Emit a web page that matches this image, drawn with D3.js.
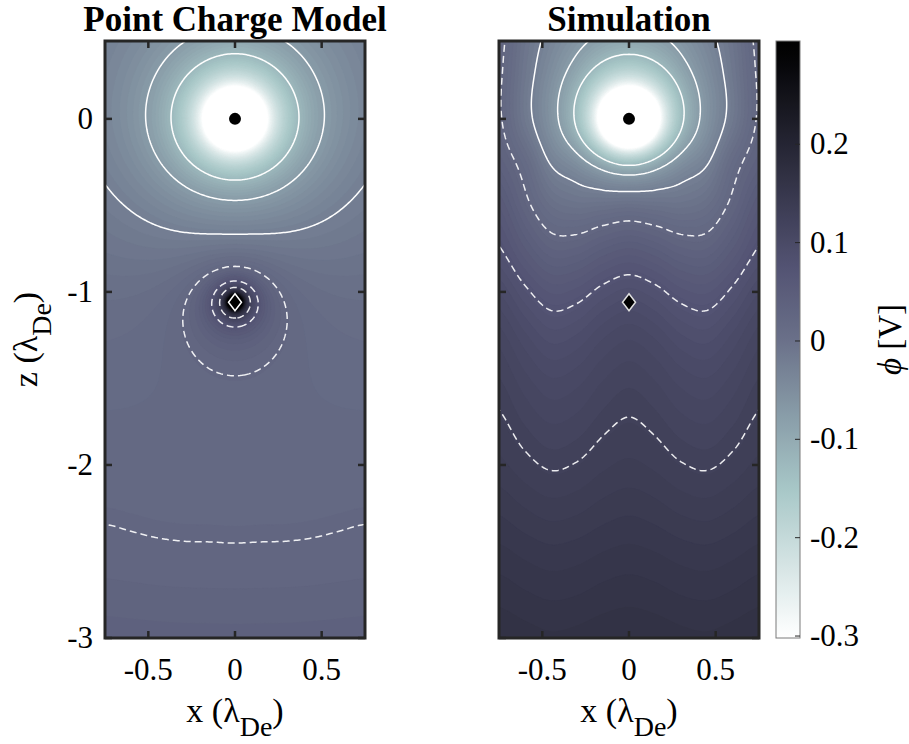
<!DOCTYPE html>
<html>
<head>
<meta charset="utf-8">
<script src="https://cdn.jsdelivr.net/npm/d3@7"></script>
<style>
  body { margin: 0; background: #fff; }
  svg { display: block; }
  text { font-family: 'Liberation Serif', 'Times New Roman', serif; fill: #000; }
</style>
</head>
<body>
<svg id="chart" width="909" height="744"></svg>
<script>
// ---- values ----
const xTicks = [-0.5, 0, 0.5];
const zTicks = [-3, -2, -1, 0];
const cbarTicks = [-0.3, -0.2, -0.1, 0, 0.1, 0.2];
const cbarRange = [-0.302, 0.305];
const lineLevels = [-0.125, -0.075, -0.025, 0.025, 0.075, 0.125];

// marker positions (grain and ion), in Debye lengths
const grain = { x: 0, z: 0 };
const ion = { x: 0, z: -1.06 };

// grid on which the smooth background potentials are tabulated
const bgZ = [0.5, 0.25, 0, -0.25, -0.5, -0.75, -1, -1.25, -1.5, -1.75, -2, -2.25, -2.5, -2.75, -3];
const bgX = [0, 0.15, 0.3, 0.45, 0.6, 0.75];   // |x|, mirrored

// point charge model: screened charges + weak background
const modelCharges = [
    { x: 0, z: 0, q: -0.07, lambda: 1 },
    { x: 0, z: -1.06, q: 0.0132, lambda: 1 }
];
const modelBgZ = [0.0, 0.001, 0.002, 0.004, 0.0055, 0.007, 0.0105, 0.013, 0.0155, 0.018, 0.0205, 0.023, 0.0258, 0.031, 0.038];
const modelBgX = [0, 0.0001, 0.0002, 0.0005, 0.001, 0.0015];

// simulation: grain charge + tabulated wake potential (rows follow bgZ, columns bgX)
const simCharges = [{ x: 0, z: 0, q: -0.0775, lambda: 1 }];
const simBg = [
    [0.012, 0.013, 0.018, 0.027, 0.042, 0.068],
    [0.027, 0.029, 0.034, 0.039, 0.051, 0.073],
    [0.050, 0.052, 0.054, 0.051, 0.058, 0.077],
    [0.094, 0.090, 0.078, 0.062, 0.076, 0.084],
    [0.096, 0.0872, 0.0712, 0.064, 0.0768, 0.0944],
    [0.103, 0.0948, 0.0798, 0.073, 0.085, 0.1015],
    [0.1146, 0.1075, 0.0945, 0.0886, 0.099, 0.1133],
    [0.124, 0.118, 0.107, 0.102, 0.111, 0.123],
    [0.1295, 0.1248, 0.1163, 0.1125, 0.1193, 0.1287],
    [0.1335, 0.1299, 0.1234, 0.1205, 0.1257, 0.1329],
    [0.1385, 0.1358, 0.1308, 0.1285, 0.1325, 0.138],
    [0.146, 0.1438, 0.1398, 0.138, 0.1412, 0.1456],
    [0.154, 0.1524, 0.1494, 0.148, 0.1504, 0.1537],
    [0.1615, 0.1601, 0.1576, 0.1565, 0.1585, 0.1613],
    [0.168, 0.1669, 0.1649, 0.164, 0.1656, 0.1678]
];

// reversed "bone"-like colormap (stops)
const colorScale = d3.scaleLinear()
    .domain([-0.3, -0.15, 0, 0.075, 0.3])
    .range(['#ffffff', '#a7c7c7', '#6a7189', '#535373', '#000000'])
    .clamp(true);

// ---- layout ----
const svg = d3.select('#chart');
const panelTop = 41, panelBottom = 638;
const panels = [
    { title: 'Point Charge Model', left: 105, right: 365, kind: 'model', yLabels: true },
    { title: 'Simulation', left: 499, right: 759, kind: 'sim', yLabels: false }
];
const cbar = { left: 776, right: 800 };

// sampling grid (slightly larger than the axes so that borders are clipped away)
const STEP = 0.01, X0 = -0.77, Z0 = 0.47, NX = 155, NZ = 350;

// Catmull-Rom helpers
function cubic(p0, p1, p2, p3, t) {
    return p1 + 0.5 * t * (p2 - p0 + t * (2 * p0 - 5 * p1 + 4 * p2 - p3 + t * (3 * (p1 - p2) + p3 - p0)));
}
function sampleCol(arr, x) {
    // mirrored in x, clamped beyond the last column
    const u = Math.min(Math.abs(x) / 0.15, arr.length - 1);
    const i = Math.min(arr.length - 2, Math.floor(u));
    const g = k => arr[Math.min(arr.length - 1, Math.abs(k))];
    return cubic(g(i - 1), g(i), g(i + 1), g(i + 2), u - i);
}
function sampleRow(arr, z) {
    const n = arr.length;
    const u = Math.max(0, Math.min(n - 1, (bgZ[0] - z) / 0.25));
    const i = Math.min(n - 2, Math.floor(u));
    const g = k => arr[Math.max(0, Math.min(n - 1, k))];
    return cubic(g(i - 1), g(i), g(i + 1), g(i + 2), u - i);
}

function chargePotential(charges, x, z) {
    let s = 0;
    charges.forEach(c => {
        const r = Math.max(Math.hypot(x - c.x, z - c.z), 0.004);
        s += c.q * Math.exp(-r / c.lambda) / r;
    });
    return s;
}

function modelField(x, z) {
    return sampleRow(modelBgZ, z) + sampleCol(modelBgX, x) + chargePotential(modelCharges, x, z);
}
function simField(x, z) {
    const rowVals = simBg.map(row => sampleCol(row, x));
    return sampleRow(rowVals, z) + chargePotential(simCharges, x, z);
}

function buildGrid(fn) {
    const values = new Float64Array(NX * NZ);
    for (let i = 0; i < NX; i++) {
        const x = X0 + i * STEP;
        for (let j = 0; j < NZ; j++) {
            const z = Z0 - j * STEP;
            values[j * NX + i] = Math.max(-0.4, Math.min(0.4, fn(x, z)));
        }
    }
    return values;
}

const defs = svg.append('defs');

// draw one panel
function drawPanel(p, idx) {
    const xs = d3.scaleLinear().domain([-0.75, 0.75]).range([p.left, p.right]);
    const ys = d3.scaleLinear().domain([-3, 0.45]).range([panelBottom, panelTop]);
    const values = buildGrid(p.kind === 'model' ? modelField : simField);

    defs.append('clipPath').attr('id', 'clip' + idx)
        .append('rect')
        .attr('x', p.left).attr('y', panelTop)
        .attr('width', p.right - p.left).attr('height', panelBottom - panelTop);

    const proj = d3.geoTransform({
        point: function(gx, gy) {
            this.stream.point(xs(X0 + (gx - 0.5) * STEP), ys(Z0 - (gy - 0.5) * STEP));
        }
    });
    const path = d3.geoPath(proj);
    const g = svg.append('g').attr('clip-path', `url(#clip${idx})`);

    // filled contours
    g.append('rect')
        .attr('x', p.left).attr('y', panelTop)
        .attr('width', p.right - p.left).attr('height', panelBottom - panelTop)
        .attr('fill', colorScale(-0.3));
    const fillStep = 0.006;
    const fillLevels = d3.range(-0.3, 0.3 - 1e-9, fillStep);
    const fills = d3.contours().size([NX, NZ]).thresholds(fillLevels)(values);
    g.selectAll('path.band')
        .data(fills)
        .join('path')
        .attr('class', 'band')
        .attr('d', path)
        .attr('fill', d => colorScale(d.value + fillStep / 2))
        .attr('stroke', d => colorScale(d.value + fillStep / 2))
        .attr('stroke-width', 0.3);

    // contour lines: solid for negative, dashed for positive
    const lines = d3.contours().size([NX, NZ]).thresholds(lineLevels)(values);
    g.selectAll('path.iso')
        .data(lines)
        .join('path')
        .attr('class', 'iso')
        .attr('d', path)
        .attr('fill', 'none')
        .attr('stroke', '#ffffff')
        .attr('stroke-opacity', d => d.value < 0 ? 1 : 0.9)
        .attr('stroke-width', 1.5)
        .attr('stroke-dasharray', d => d.value < 0 ? null : '7,4');

    // markers
    svg.append('circle')
        .attr('cx', xs(grain.x)).attr('cy', ys(grain.z)).attr('r', 6)
        .attr('fill', '#000');
    const dx = 6.5, dy = 8.5;
    const cx = xs(ion.x), cy = ys(ion.z);
    svg.append('path')
        .attr('d', `M${cx},${cy - dy}L${cx + dx},${cy}L${cx},${cy + dy}L${cx - dx},${cy}Z`)
        .attr('fill', '#000')
        .attr('stroke', p.kind === 'model' ? '#ffffff' : '#e0e0e0')
        .attr('stroke-width', 1.5);

    // frame and ticks
    const axisColor = '#262626';
    const tickLen = 7;
    xTicks.forEach(t => {
        const x = xs(t);
        svg.append('line').attr('x1', x).attr('x2', x).attr('y1', panelBottom).attr('y2', panelBottom - tickLen)
            .attr('stroke', axisColor).attr('stroke-width', 2.5);
        svg.append('line').attr('x1', x).attr('x2', x).attr('y1', panelTop).attr('y2', panelTop + tickLen)
            .attr('stroke', axisColor).attr('stroke-width', 2.5);
        svg.append('text')
            .attr('x', x).attr('y', 680)
            .attr('text-anchor', 'middle')
            .attr('font-size', 31)
            .text(t === 0 ? '0' : String(t));
    });
    zTicks.forEach(t => {
        const y = ys(t);
        svg.append('line').attr('x1', p.left).attr('x2', p.left + tickLen).attr('y1', y).attr('y2', y)
            .attr('stroke', axisColor).attr('stroke-width', 2.5);
        svg.append('line').attr('x1', p.right).attr('x2', p.right - tickLen).attr('y1', y).attr('y2', y)
            .attr('stroke', axisColor).attr('stroke-width', 2.5);
        if (p.yLabels) {
            svg.append('text')
                .attr('x', p.left - 12).attr('y', y + 10)
                .attr('text-anchor', 'end')
                .attr('font-size', 31)
                .text(String(t));
        }
    });
    svg.append('rect')
        .attr('x', p.left).attr('y', panelTop)
        .attr('width', p.right - p.left).attr('height', panelBottom - panelTop)
        .attr('fill', 'none')
        .attr('stroke', axisColor)
        .attr('stroke-width', 3);

    // title
    svg.append('text')
        .attr('x', (p.left + p.right) / 2).attr('y', 31)
        .attr('text-anchor', 'middle')
        .attr('font-size', 35)
        .attr('font-weight', 'bold')
        .text(p.title);

    // x label
    const xl = svg.append('text')
        .attr('x', (p.left + p.right) / 2).attr('y', 722)
        .attr('text-anchor', 'middle')
        .attr('font-size', 34);
    xl.append('tspan').text('x (λ');
    xl.append('tspan').attr('dy', 14).attr('font-size', 28).text('De');
    xl.append('tspan').attr('dy', -14).text(')');
}

panels.forEach(drawPanel);

// y label
const yl = svg.append('text')
    .attr('transform', `translate(37,${(panelTop + panelBottom) / 2}) rotate(-90)`)
    .attr('text-anchor', 'middle')
    .attr('font-size', 34);
yl.append('tspan').text('z (λ');
yl.append('tspan').attr('dy', 14).attr('font-size', 28).text('De');
yl.append('tspan').attr('dy', -14).text(')');

// colorbar
const cs = d3.scaleLinear().domain(cbarRange).range([panelBottom, panelTop]);
const grad = defs.append('linearGradient').attr('id', 'cbgrad')
    .attr('x1', 0).attr('y1', 1).attr('x2', 0).attr('y2', 0);
d3.range(0, 1.0001, 0.025).forEach(f => {
    grad.append('stop').attr('offset', f)
        .attr('stop-color', colorScale(cbarRange[0] + (cbarRange[1] - cbarRange[0]) * f));
});
svg.append('rect')
    .attr('x', cbar.left).attr('y', panelTop)
    .attr('width', cbar.right - cbar.left).attr('height', panelBottom - panelTop)
    .attr('fill', 'url(#cbgrad)')
    .attr('stroke', '#7a7a7a')
    .attr('stroke-width', 1);
cbarTicks.forEach(t => {
    const y = cs(t);
    svg.append('line').attr('x1', cbar.right).attr('x2', cbar.right - 5).attr('y1', y).attr('y2', y)
        .attr('stroke', '#262626').attr('stroke-width', 1);
    svg.append('text')
        .attr('x', cbar.right + 10).attr('y', y + 10)
        .attr('font-size', 31)
        .text(t === 0 ? '0' : String(t));
});
const cl = svg.append('text')
    .attr('transform', `translate(901,${(panelTop + panelBottom) / 2}) rotate(-90)`)
    .attr('text-anchor', 'middle')
    .attr('font-size', 33);
cl.append('tspan').attr('font-style', 'italic').text('ϕ');
cl.append('tspan').text(' [V]');
</script>
</body>
</html>
